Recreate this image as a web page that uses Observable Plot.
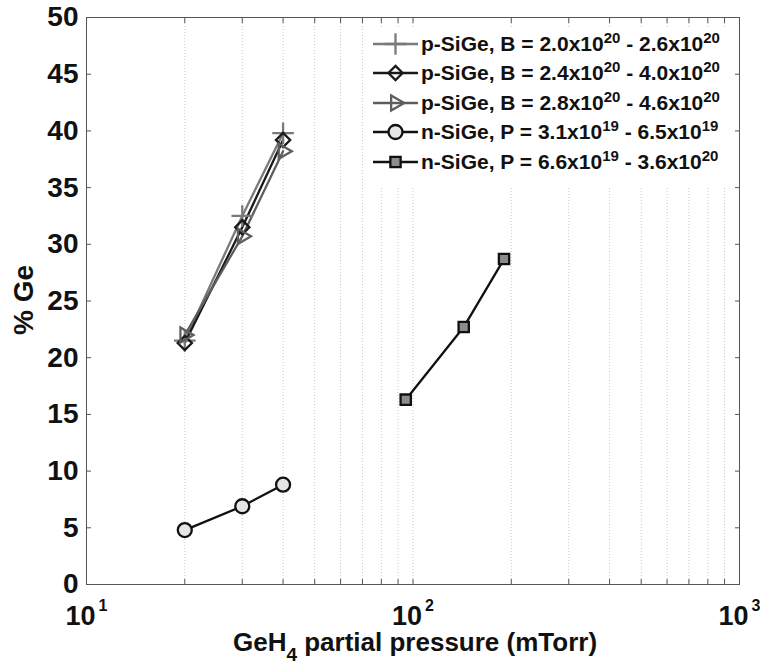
<!DOCTYPE html>
<html>
<head>
<meta charset="utf-8">
<script src="https://cdn.jsdelivr.net/npm/d3@7"></script>
<script src="https://cdn.jsdelivr.net/npm/@observablehq/plot@0.6"></script>
<style>
  html, body { margin: 0; padding: 0; background: #fff; }
  #wrap { position: relative; width: 760px; height: 664px; font-family: "Liberation Sans", Arial, sans-serif; }
  #legend { position: absolute; left: 371px; top: 27px; background: #fff; padding: 2px 8px 10px 2px; font-weight: bold; font-size: 21px; color: #111; }
  #legend .row { display: flex; align-items: center; height: 29.5px; white-space: nowrap; }
  #legend svg { flex: none; margin-right: 2px; }
  #legend sup { font-size: 15px; vertical-align: 8px; line-height: 0; }
</style>
</head>
<body>
<div id="wrap"></div>
<script>
// ---- data ----
const xP = [20, 30, 40];               // GeH4 partial pressure (mTorr), p-SiGe & n-SiGe (low P)
const xN2 = [95, 143, 190];            // GeH4 partial pressure (mTorr), n-SiGe (high P)
const pB1 = [21.5, 32.5, 39.8];        // p-SiGe, B = 2.0e20 - 2.6e20
const pB2 = [21.3, 31.5, 39.2];        // p-SiGe, B = 2.4e20 - 4.0e20
const pB3 = [22.0, 30.7, 38.2];        // p-SiGe, B = 2.8e20 - 4.6e20
const nP1 = [4.8, 6.9, 8.8];           // n-SiGe, P = 3.1e19 - 6.5e19
const nP2 = [16.3, 22.7, 28.7];        // n-SiGe, P = 6.6e19 - 3.6e20
const seriesNames = [
  "p-SiGe, B = 2.0x10^20 - 2.6x10^20",
  "p-SiGe, B = 2.4x10^20 - 4.0x10^20",
  "p-SiGe, B = 2.8x10^20 - 4.6x10^20",
  "n-SiGe, P = 3.1x10^19 - 6.5x10^19",
  "n-SiGe, P = 6.6x10^19 - 3.6x10^20"
];
const xTicks = [10, 100, 1000];
const xTickLabels = ["10^1", "10^2", "10^3"];
const xMinor = [20,30,40,50,60,70,80,90,100,200,300,400,500,600,700,800,900];
const yTicks = [0,5,10,15,20,25,30,35,40,45,50];

// ---- styles per series ----
const styles = [
  {symbol: "plus", stroke: "#7a7a7a", fill: "none", r: 7, rotate: 0, line: "#7a7a7a"},
  {symbol: "diamond2", stroke: "#1a1a1a", fill: "none", r: 6.4, rotate: 0, line: "#1a1a1a"},
  {symbol: "triangle", stroke: "#5e5e5e", fill: "none", r: 5.6, rotate: 90, line: "#5e5e5e"},
  {symbol: "circle", stroke: "#111", fill: "#e6e6e6", r: 7, rotate: 0, line: "#111"},
  {symbol: "square", stroke: "#111", fill: "#8c8c8c", r: 5.8, rotate: 0, line: "#111"}
];
const xs = [xP, xP, xP, xP, xN2];
const ys = [pB1, pB2, pB3, nP1, nP2];
const tables = ys.map((arr, i) => arr.map((y, j) => ({series: seriesNames[i], x: xs[i][j], y})));

const chart = Plot.plot({
  width: 760,
  height: 664,
  marginLeft: 86,
  marginRight: 21,
  marginTop: 17,
  marginBottom: 80,
  x: {type: "log", domain: [10, 1000]},
  y: {domain: [0, 50]},
  style: {fontFamily: "'Liberation Sans', Arial, sans-serif", fontWeight: "bold", background: "white", color: "#111", overflow: "visible"},
  marks: [
    Plot.gridX(xMinor, {stroke: "#c8c8c8", strokeOpacity: 1, strokeWidth: 1, strokeDasharray: "1,2"}),
    Plot.frame({stroke: "#555", strokeWidth: 1}),
    Plot.axisX(xTicks, {anchor: "bottom", tickSize: 0, tickPadding: 21, fontSize: 27, label: null,
      tickFormat: (d) => xTickLabels[xTicks.indexOf(d)]}),
    Plot.axisX(xMinor, {anchor: "bottom", tickSize: -5, text: null, label: null, stroke: "#555"}),
    Plot.axisX(xMinor, {anchor: "top", tickSize: -5, text: null, label: null, stroke: "#555"}),
    Plot.axisY(yTicks, {anchor: "left", tickSize: -5, tickPadding: 13, fontSize: 28, label: null, stroke: "#555"}),
    Plot.axisY(yTicks, {anchor: "right", tickSize: -5, text: null, label: null, stroke: "#555"}),
    ...tables.map((t, i) => Plot.line(t, {x: "x", y: "y", stroke: styles[i].line, strokeWidth: 2.3})),
    ...tables.map((t, i) => Plot.dot(t, {x: "x", y: "y", symbol: () => styles[i].symbol, r: styles[i].r,
      stroke: styles[i].stroke, fill: styles[i].fill, strokeWidth: 2.3, rotate: styles[i].rotate}))
  ]
});

const wrap = document.getElementById("wrap");
wrap.appendChild(chart);
const svg = d3.select(chart);

// x tick labels: "10^n" -> 10 with superscript exponent
svg.selectAll("text").each(function() {
  const t = d3.select(this);
  const m = /^10\^(\d)$/.exec(t.text());
  if (!m) return;
  t.text(null);
  t.append("tspan").text("10");
  t.append("tspan").attr("dx", 3).attr("dy", -14).attr("font-size", 16).text(m[1]);
});

// axis titles (text only)
const xl = svg.append("text")
  .attr("x", 415).attr("y", 651)
  .attr("text-anchor", "middle")
  .attr("font-size", 26).attr("font-weight", "bold").attr("fill", "#111");
xl.append("tspan").text("GeH");
xl.append("tspan").attr("dy", 10).attr("font-size", 19).text("4");
xl.append("tspan").attr("dy", -10).text(" partial pressure (mTorr)");

svg.append("text")
  .attr("transform", "translate(33,300) rotate(-90)")
  .attr("text-anchor", "middle")
  .attr("font-size", 28).attr("font-weight", "bold").attr("fill", "#111")
  .text("% Ge");

// legend
const symMap = {plus: d3.symbolPlus, diamond2: d3.symbolDiamond2, triangle: d3.symbolTriangle, circle: d3.symbolCircle, square: d3.symbolSquare};
const legend = document.createElement("div");
legend.id = "legend";
seriesNames.forEach((name, i) => {
  const row = document.createElement("div");
  row.className = "row";
  const s = styles[i];
  const sym = d3.symbol(symMap[s.symbol], Math.PI * s.r * s.r)();
  row.innerHTML = `<svg width="46" height="24"><line x1="0" x2="45" y1="12" y2="12" stroke="${s.line}" stroke-width="2.3"/>` +
    `<path d="${sym}" transform="translate(22.5,12) rotate(${s.rotate})" fill="${s.fill}" stroke="${s.stroke}" stroke-width="2.3"/></svg>` +
    `<span>${name.replace(/\^(\d+)/g, "<sup>$1</sup>")}</span>`;
  legend.appendChild(row);
});
wrap.appendChild(legend);
</script>
</body>
</html>
